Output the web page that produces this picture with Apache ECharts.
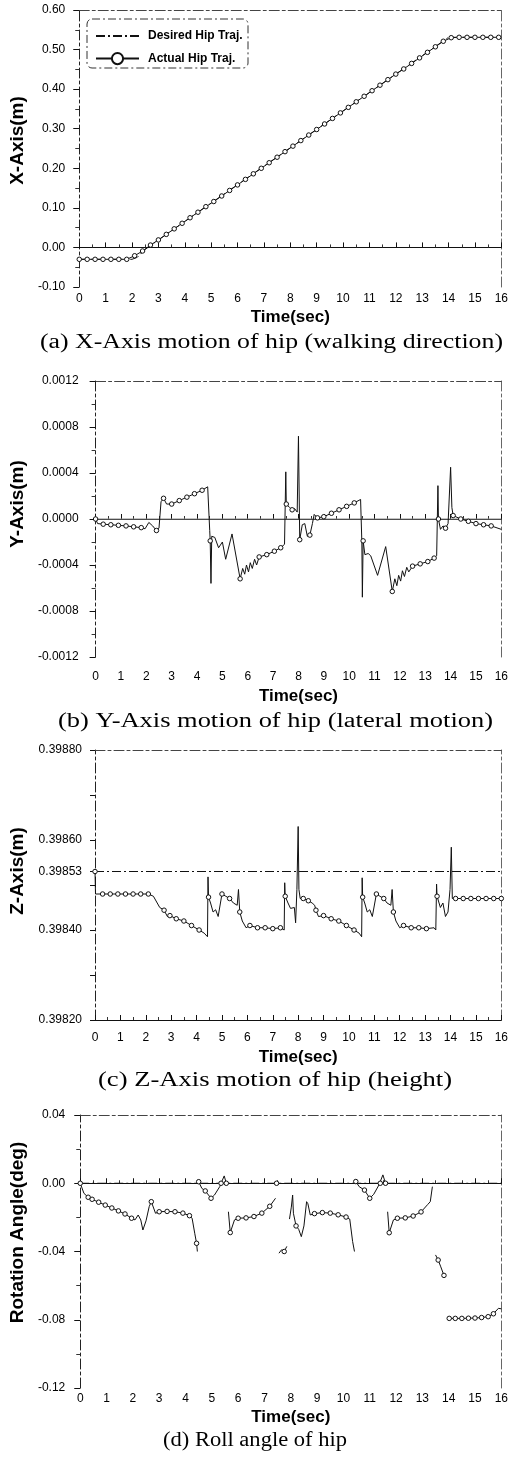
<!DOCTYPE html>
<html>
<head>
<meta charset="utf-8">
<script src="https://cdn.jsdelivr.net/npm/echarts@6/dist/echarts.min.js"></script>
<style>
  html, body { margin: 0; padding: 0; background: #fff; }
  #chart { width: 511px; height: 1466px; }
</style>
</head>
<body>
<div id="chart"></div>
<script>
// ---- data (time in sec, value, 1 = a marker is drawn on that point) ----
const captions = [
  '(a) X-Axis motion of hip (walking direction)',
  '(b) Y-Axis motion of hip (lateral motion)',
  '(c) Z-Axis motion of hip (height)',
  '(d) Roll angle of hip'
];
const yNames = ['X-Axis(m)', 'Y-Axis(m)', 'Z-Axis(m)', 'Rotation Angle(deg)'];
const legendNames = ['Desired Hip Traj.', 'Actual Hip Traj.'];
const zTickLabels = [0.3982, 0.3984, 0.39853, 0.3986, 0.3988];
const zTicks = [0.3982, 0.3983, 0.3984, 0.3985, 0.39853, 0.3986, 0.3987, 0.3988];

// (a) X axis
const xDesired = [[0, -0.03], [2.0, -0.03], [2.2, -0.025], [2.5, -0.005], [3.0, 0.019], [14.0, 0.531], [16, 0.531]];
const xActual = [
  [0, -0.03, 1], [0.3, -0.03, 1], [0.6, -0.03, 1], [0.9, -0.03, 1], [1.2, -0.03, 1], [1.5, -0.03, 1], [1.8, -0.03, 1],
  [2.1, -0.021, 1], [2.4, -0.009, 1], [2.7, 0.006, 1], [3.0, 0.019, 1], [3.3, 0.033, 1], [3.6, 0.047, 1],
  [3.9, 0.061, 1], [4.2, 0.075, 1], [4.5, 0.089, 1], [4.8, 0.103, 1], [5.1, 0.116, 1], [5.4, 0.130, 1],
  [5.7, 0.144, 1], [6.0, 0.158, 1], [6.3, 0.172, 1], [6.6, 0.186, 1], [6.9, 0.200, 1], [7.2, 0.214, 1],
  [7.5, 0.228, 1], [7.8, 0.242, 1], [8.1, 0.256, 1], [8.4, 0.270, 1], [8.7, 0.284, 1], [9.0, 0.298, 1],
  [9.3, 0.312, 1], [9.6, 0.326, 1], [9.9, 0.340, 1], [10.2, 0.354, 1], [10.5, 0.368, 1], [10.8, 0.382, 1],
  [11.1, 0.396, 1], [11.4, 0.410, 1], [11.7, 0.424, 1], [12.0, 0.438, 1], [12.3, 0.451, 1], [12.6, 0.465, 1],
  [12.9, 0.479, 1], [13.2, 0.493, 1], [13.5, 0.507, 1], [13.8, 0.521, 1], [14.1, 0.530, 1], [14.4, 0.531, 1],
  [14.7, 0.531, 1], [15.0, 0.531, 1], [15.3, 0.531, 1], [15.6, 0.531, 1], [15.9, 0.531, 1]
];

// (b) Y axis
const yDesired = [[0, 0], [16, 0]];
const yActual = [
  [0, 0, 1], [0.08, -0.00004, 0], [0.3, -0.000045, 1], [0.6, -0.00005, 1], [0.9, -0.000055, 1], [1.2, -0.00006, 1],
  [1.5, -0.000068, 1], [1.8, -0.000075, 1], [1.95, -0.000085, 0], [2.1, -0.00003, 0], [2.25, -0.00006, 0],
  [2.4, -0.0001, 1], [2.5, -0.00008, 0], [2.58, 0.00015, 0], [2.68, 0.00018, 1], [2.8, 0.00013, 0],
  [3.0, 0.00013, 1], [3.3, 0.00016, 1], [3.6, 0.00019, 1], [3.9, 0.00022, 1], [4.2, 0.00025, 1], [4.42, 0.00028, 0],
  [4.5, -0.0001, 0], [4.52, -0.00019, 1], [4.55, -0.00056, 0], [4.58, -0.00015, 0], [4.7, -0.00016, 0],
  [4.85, -0.00025, 0], [5.0, -0.0002, 0], [5.13, -0.00035, 0], [5.38, -0.00013, 0], [5.7, -0.00052, 1],
  [5.8, -0.00043, 0], [5.88, -0.00048, 0], [5.95, -0.0004, 0], [6.03, -0.00046, 0], [6.1, -0.00038, 0],
  [6.18, -0.00043, 0], [6.27, -0.00035, 0], [6.35, -0.0004, 0], [6.45, -0.00033, 1], [6.75, -0.00031, 1],
  [7.05, -0.00028, 1], [7.3, -0.00025, 1], [7.45, -0.00022, 0],
  [7.5, 0.00041, 0], [7.52, 0.00013, 1], [7.65, 0.0001, 0], [7.75, 0.00008, 1], [7.85, 0.00009, 0],
  [7.95, 0.00006, 0], [8.0, 0.00072, 0], [8.05, -0.00018, 1], [8.15, -0.00005, 0], [8.25, -0.00004, 0],
  [8.35, -0.00015, 0], [8.45, -0.00014, 1], [8.55, -0.00004, 0], [8.62, 0.00004, 0], [8.75, 0.00001, 1],
  [9.0, 0.00002, 1], [9.3, 0.00005, 1], [9.6, 0.00008, 1], [9.9, 0.00011, 1], [10.2, 0.00014, 1], [10.45, 0.00017, 0],
  [10.5, -0.0002, 0], [10.52, -0.00068, 0], [10.55, -0.00019, 1], [10.62, -0.00031, 0], [10.75, -0.0003, 0],
  [10.85, -0.00032, 0], [11.12, -0.00049, 0], [11.44, -0.00024, 0], [11.7, -0.00063, 1],
  [11.8, -0.00052, 0], [11.88, -0.00058, 0], [11.95, -0.00049, 0], [12.03, -0.00054, 0], [12.1, -0.00045, 0],
  [12.18, -0.0005, 0], [12.27, -0.00042, 0], [12.35, -0.00046, 0], [12.5, -0.00041, 1], [12.8, -0.00039, 1],
  [13.1, -0.00037, 1], [13.35, -0.00034, 1], [13.45, -0.00032, 0],
  [13.5, 0.00029, 0], [13.52, 0.0, 1], [13.6, -0.00009, 0], [13.7, -0.00006, 0], [13.8, -0.00008, 1],
  [13.9, -0.00004, 0], [14.0, 0.00045, 0], [14.05, 0.0001, 0], [14.1, 0.00003, 1], [14.4, 0.0, 1],
  [14.7, -0.00002, 1], [15.0, -0.00004, 1], [15.3, -0.00005, 1], [15.6, -0.00006, 1], [16.0, -0.00009, 0]
];

// (c) Z axis
const zDesired = [[0, 0.39853], [16, 0.39853]];
const zActual = [
  [0, 0.39853, 1], [0.02, 0.39848, 0], [0.3, 0.39848, 1], [0.6, 0.39848, 1], [0.9, 0.39848, 1], [1.2, 0.39848, 1],
  [1.5, 0.39848, 1], [1.8, 0.39848, 1], [2.1, 0.39848, 1], [2.3, 0.398475, 0], [2.45, 0.39846, 0], [2.55, 0.39845, 0],
  [2.72, 0.398444, 1], [2.85, 0.39843, 0], [2.95, 0.398432, 1], [3.2, 0.398425, 1], [3.5, 0.39842, 1],
  [3.8, 0.39841, 1], [4.1, 0.3984, 1], [4.3, 0.398393, 0], [4.43, 0.398385, 0],
  [4.45, 0.398518, 0], [4.47, 0.398473, 1], [4.55, 0.39846, 0], [4.65, 0.39844, 0], [4.75, 0.398445, 0],
  [4.85, 0.39843, 0], [5.0, 0.39848, 1], [5.15, 0.398475, 0], [5.3, 0.39847, 1], [5.45, 0.39846, 0],
  [5.6, 0.398455, 0], [5.65, 0.39849, 0], [5.7, 0.39844, 1], [5.8, 0.39842, 0], [5.95, 0.398405, 0],
  [6.1, 0.39841, 1], [6.4, 0.398405, 1], [6.7, 0.398405, 1], [7.0, 0.398403, 1], [7.3, 0.398405, 1], [7.45, 0.3984, 0],
  [7.47, 0.398505, 0], [7.49, 0.398475, 1], [7.6, 0.39846, 0], [7.7, 0.398448, 0], [7.85, 0.39845, 0],
  [7.9, 0.398416, 0], [7.95, 0.39849, 0], [8.0, 0.39863, 0], [8.03, 0.39849, 0], [8.08, 0.39847, 0],
  [8.2, 0.39847, 1], [8.4, 0.398465, 1], [8.55, 0.39846, 0], [8.65, 0.398455, 0], [8.7, 0.398444, 1],
  [8.8, 0.39843, 0], [9.0, 0.398432, 1], [9.3, 0.398425, 1], [9.6, 0.39842, 1], [9.9, 0.39841, 1],
  [10.2, 0.3984, 1], [10.4, 0.398393, 0], [10.5, 0.398385, 0],
  [10.52, 0.398516, 0], [10.54, 0.398473, 1], [10.62, 0.39846, 0], [10.72, 0.39844, 0], [10.82, 0.398445, 0],
  [10.92, 0.39843, 0], [11.08, 0.39848, 1], [11.22, 0.398475, 0], [11.37, 0.39847, 1], [11.5, 0.39846, 0],
  [11.65, 0.398455, 0], [11.7, 0.39849, 0], [11.75, 0.39844, 1], [11.85, 0.39842, 0], [12.0, 0.398405, 0],
  [12.15, 0.39841, 1], [12.45, 0.398405, 1], [12.75, 0.398405, 1], [13.05, 0.398403, 1], [13.35, 0.398405, 0],
  [13.42, 0.3984, 0],
  [13.45, 0.398502, 0], [13.47, 0.398475, 1], [13.6, 0.39845, 0], [13.7, 0.39846, 0], [13.8, 0.39843, 0],
  [13.9, 0.39844, 0], [13.98, 0.39849, 0], [14.03, 0.398584, 0], [14.07, 0.39847, 0], [14.2, 0.39847, 1],
  [14.5, 0.39847, 1], [14.8, 0.39847, 1], [15.1, 0.39847, 1], [15.4, 0.39847, 1], [15.7, 0.39847, 1], [16.0, 0.39847, 1]
];

// (d) roll angle, null = gap in the trace
const rDesired = [[0, 0], [16, 0]];
const rActual = [
  [0, 0, 1], [0.14, -0.0059, 0], [0.3, -0.0082, 1], [0.45, -0.0094, 1], [0.7, -0.0111, 1], [0.95, -0.0128, 1],
  [1.2, -0.0145, 1], [1.45, -0.0162, 1], [1.7, -0.018, 1], [1.95, -0.0205, 1], [2.08, -0.0215, 0],
  [2.2, -0.0186, 0], [2.3, -0.0215, 0], [2.38, -0.0274, 0], [2.5, -0.022, 0], [2.62, -0.0137, 0],
  [2.7, -0.0108, 1], [2.86, -0.0176, 0], [3.0, -0.0167, 1], [3.3, -0.0165, 1], [3.6, -0.0167, 1],
  [3.9, -0.0175, 1], [4.15, -0.019, 1], [4.25, -0.0205, 0], [4.35, -0.0293, 0], [4.42, -0.0352, 1],
  [4.45, -0.040, 0], [4.47, null],
  [4.5, 0.0009, 1], [4.62, -0.003, 0], [4.75, -0.0045, 1], [4.97, -0.0088, 1], [5.1, -0.0069, 0],
  [5.3, -0.002, 0], [5.35, 0, 1], [5.47, 0.0043, 0], [5.55, 0, 1], [5.6, null],
  [5.63, -0.0167, 0], [5.7, -0.0289, 1], [5.86, -0.0215, 0], [6.0, -0.0205, 1], [6.3, -0.0203, 1],
  [6.6, -0.0195, 1], [6.9, -0.0175, 1], [7.2, -0.0135, 1], [7.42, -0.0088, 0], [7.44, null],
  [7.46, 0, 1], [7.5, null],
  [7.55, -0.041, 0], [7.65, -0.039, 0], [7.75, -0.040, 1], [7.85, -0.037, 0], [7.9, null],
  [7.95, -0.021, 0], [8.02, -0.014, 0], [8.07, -0.0069, 0], [8.1, -0.0176, 0], [8.2, -0.025, 1],
  [8.3, -0.027, 0], [8.4, -0.0313, 0], [8.5, -0.025, 0], [8.6, -0.0108, 0], [8.65, -0.012, 0],
  [8.74, -0.0186, 0], [8.9, -0.0178, 1], [9.2, -0.0172, 1], [9.5, -0.0175, 1], [9.8, -0.0185, 1],
  [10.1, -0.0198, 1], [10.24, -0.021, 0], [10.35, -0.0342, 0], [10.42, -0.040, 0], [10.44, null],
  [10.47, 0.001, 1], [10.6, -0.002, 0], [10.8, -0.004, 1], [11.0, -0.0088, 1], [11.15, -0.0065, 0],
  [11.35, -0.001, 0], [11.4, 0, 1], [11.5, 0.0049, 0], [11.6, 0, 1], [11.64, null],
  [11.68, -0.0167, 0], [11.74, -0.029, 1], [11.9, -0.0215, 0], [12.05, -0.0205, 1], [12.35, -0.0203, 1],
  [12.65, -0.0192, 1], [12.95, -0.0168, 1], [13.2, -0.0125, 0], [13.3, -0.0108, 0], [13.38, -0.002, 0],
  [13.42, null],
  [13.5, -0.042, 0], [13.6, -0.045, 1], [13.7, -0.049, 0], [13.82, -0.054, 1], [13.9, null],
  [14.02, -0.0792, 1], [14.25, -0.0792, 1], [14.5, -0.0792, 1], [14.75, -0.0791, 1], [15.0, -0.079, 1],
  [15.25, -0.0787, 1], [15.5, -0.0782, 1], [15.7, -0.0765, 1], [15.89, -0.0733, 0], [16.0, -0.0736, 0]
];

// ---- layout ----
const panels = [
  { grid: { left: 77, top: 10, width: 426, height: 277 }, min: -0.1, max: 0.6, interval: 0.1, digits: 2,
    labelMargin: 14, nameGap: 52, nameShift: 16, xLabelMargin: 6, xNameGap: 22, caption: { x: 271.5, y: 343, w: 463 },
    desired: xDesired, actual: xActual, desiredColor: '#111' },
  { grid: { left: 89, top: 381, width: 414, height: 276 }, min: -0.0012, max: 0.0012, interval: 0.0004, digits: 4,
    labelMargin: 17, nameGap: 66, nameShift: 30, xLabelMargin: 14, xNameGap: 31, caption: { x: 275.5, y: 722, w: 435 },
    desired: yDesired, actual: yActual, desiredColor: '#888', desiredSolid: true },
  { grid: { left: 91, top: 750, width: 412, height: 270 }, min: 0.3982, max: 0.3988, digits: 5,
    labelMargin: 13, nameGap: 68, nameShift: 28, xLabelMargin: 12, xNameGap: 29, caption: { x: 275, y: 1081, w: 354 },
    desired: zDesired, actual: zActual, desiredColor: '#111', custom: true },
  { grid: { left: 78, top: 1115, width: 425, height: 273 }, min: -0.12, max: 0.04, interval: 0.04, digits: 2,
    labelMargin: 15, nameGap: 52, nameShift: 38, xLabelMargin: 5, xNameGap: 21, caption: { x: 255, y: 1441, w: 184 },
    desired: rDesired, actual: rActual, desiredColor: '#111' }
];

const dashDot = [9, 3, 2, 3];
const frameDash = [10, 3, 3, 3];
const tickFont = { fontFamily: 'Liberation Sans', fontSize: 12, color: '#000' };

function fmt(digits) {
  return v => (Math.abs(v) < 1e-12 ? 0 : v).toFixed(digits);
}

function toLineData(rows) {
  return rows.map(r => {
    if (r[1] === null) return [r[0], '-'];
    return { value: [r[0], r[1]], symbol: r[2] ? 'circle' : 'none' };
  });
}

const measureCtx = document.createElement('canvas').getContext('2d');
function textWidth(text, font) {
  measureCtx.font = font;
  return measureCtx.measureText(text).width;
}

const grid = [], xAxis = [], yAxis = [], series = [], graphic = [];

panels.forEach((p, i) => {
  grid.push(p.grid);

  xAxis.push({
    type: 'value', gridIndex: i, min: 0, max: 16, interval: 1,
    name: 'Time(sec)', nameLocation: 'middle', nameGap: p.xNameGap,
    nameTextStyle: { fontFamily: 'Liberation Sans', fontSize: 17, fontWeight: 'bold', color: '#000' },
    axisLine: { lineStyle: { color: '#111', width: 1 } },
    axisTick: { inside: true, length: 5, lineStyle: { color: '#111' } },
    minorTick: { show: true, splitNumber: 2, length: 3, lineStyle: { color: '#333' } },
    axisLabel: Object.assign({ margin: p.xLabelMargin }, tickFont),
    splitLine: { show: false }
  });

  const yMain = {
    type: 'value', gridIndex: i, min: p.min, max: p.max,
    name: yNames[i], nameLocation: 'middle', nameGap: p.nameGap,
    nameTextStyle: { fontFamily: 'Liberation Sans', fontSize: 19, fontWeight: 'bold', color: '#000',
                     padding: [0, 0, 0, p.nameShift] },
    axisLine: { lineStyle: { color: '#222', width: 1, type: frameDash } },
    axisTick: { inside: false, length: 6, lineStyle: { color: '#111' } },
    axisLabel: Object.assign({ margin: p.labelMargin, formatter: fmt(p.digits) }, tickFont),
    splitLine: { show: false }
  };
  if (p.custom) {
    yMain.axisLabel.customValues = zTickLabels;
    yMain.axisTick.customValues = zTicks;
    yMain.axisTick.length = 5;
  } else {
    yMain.interval = p.interval;
    yMain.minorTick = { show: true, splitNumber: 2, length: 4, lineStyle: { color: '#333' } };
  }
  yAxis.push(yMain);

  series.push({
    name: i === 0 ? legendNames[0] : 'desired-' + i,
    type: 'line', xAxisIndex: i, yAxisIndex: i,
    data: p.desired, showSymbol: false, symbol: 'none', z: 2,
    lineStyle: { color: p.desiredColor, width: 1, type: p.desiredSolid ? 'solid' : dashDot },
    itemStyle: { color: p.desiredColor }
  });
  series.push({
    name: i === 0 ? legendNames[1] : 'actual-' + i,
    type: 'line', xAxisIndex: i, yAxisIndex: i,
    data: toLineData(p.actual), symbol: 'circle', symbolSize: 4.5, showSymbol: true, showAllSymbol: true,
    connectNulls: false, z: 3,
    lineStyle: { color: '#111', width: 1 },
    itemStyle: { color: '#fff', borderColor: '#111', borderWidth: 1 }
  });

  const capFont = '20px "Liberation Serif"';
  const w = textWidth(captions[i], capFont);
  graphic.push({
    type: 'text', x: p.caption.x, y: p.caption.y, scaleX: p.caption.w / w,
    style: { text: captions[i], font: capFont, fill: '#000', align: 'center', verticalAlign: 'middle',
             textAlign: 'center', textVerticalAlign: 'middle' }
  });
});

// frame: top and right borders of each plot
panels.forEach((p, i) => {
  xAxis.push({
    type: 'value', gridIndex: i, position: 'top', min: 0, max: 16,
    axisLine: { onZero: false, lineStyle: { color: '#444', width: 1, type: frameDash } },
    axisTick: { show: false }, axisLabel: { show: false }, splitLine: { show: false }
  });
  yAxis.push({
    type: 'value', gridIndex: i, position: 'right', min: p.min, max: p.max,
    axisLine: { show: true, onZero: false, lineStyle: { color: '#666', width: 1, type: frameDash } },
    axisTick: { show: false }, axisLabel: { show: false }, splitLine: { show: false }
  });
});

// legend box of plot (a)
graphic.push({
  type: 'rect', shape: { x: 87, y: 19, width: 161, height: 49, r: 5 },
  style: { fill: 'none', stroke: '#333', lineWidth: 1, lineDash: [8, 3, 2, 3] }
});

const chart = echarts.init(document.getElementById('chart'), null, { renderer: 'canvas' });
chart.setOption({
  animation: false,
  backgroundColor: '#fff',
  grid: grid,
  xAxis: xAxis,
  yAxis: yAxis,
  legend: {
    data: [
      { name: legendNames[0], itemStyle: { color: 'rgba(0,0,0,0)', borderWidth: 0 } },
      { name: legendNames[1] }
    ],
    orient: 'vertical', left: 90, top: 25,
    itemWidth: 43, itemHeight: 14, itemGap: 10,
    textStyle: { fontFamily: 'Liberation Sans', fontSize: 12, fontWeight: 'bold', color: '#000', padding: [0, 0, 0, 4] }
  },
  series: series,
  graphic: graphic
});
</script>
</body>
</html>
